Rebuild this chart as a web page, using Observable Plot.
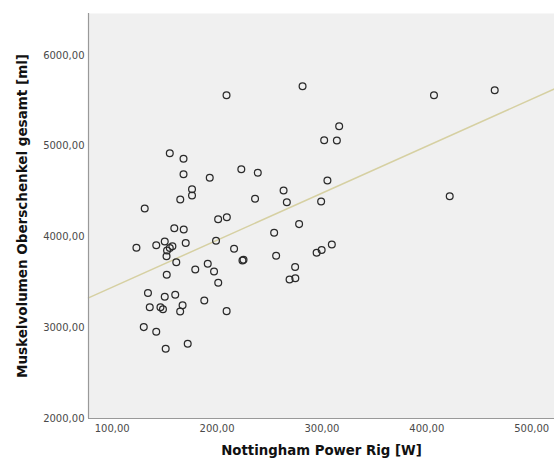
<!DOCTYPE html>
<html>
<head>
<meta charset="utf-8">
<script src="https://cdn.jsdelivr.net/npm/d3@7"></script>
<script src="https://cdn.jsdelivr.net/npm/@observablehq/plot@0.6"></script>
<style>
  html, body { margin: 0; padding: 0; background: #fff; }
  #chart svg { display: block; }
</style>
</head>
<body>
<div id="chart"></div>
<script>
// Nottingham Power Rig [W]
const power = [
  154.9, 168.0, 168.0, 193.0, 223.1, 238.8, 176.1, 176.1, 164.9, 236.2,
  131.0, 201.0, 209.3, 159.2, 168.2, 150.1, 142.0, 154.9, 157.4, 152.3,
  170.1, 123.1, 199.0, 216.2, 224.2, 225.2, 151.8, 161.1, 152.0, 179.2,
  134.1, 150.1, 160.1, 135.8, 146.0, 148.4, 167.1, 164.8, 187.8, 209.1,
  130.1, 142.0, 151.0, 172.0, 191.1, 197.1, 201.1, 254.4, 278.2, 256.3,
  274.4, 269.1, 274.6, 263.4, 266.5, 305.2, 299.2, 209.0, 281.5, 406.8,
  464.7, 316.4, 302.1, 314.2, 421.8, 309.4, 294.9, 299.7
];
// Muskelvolumen Oberschenkel gesamt [ml]
const volume = [
  4923, 4862, 4691, 4652, 4747, 4709, 4527, 4457, 4413, 4421,
  4314, 4195, 4218, 4096, 4083, 3950, 3909, 3879, 3898, 3851,
  3934, 3881, 3959, 3871, 3741, 3749, 3787, 3721, 3583, 3642,
  3383, 3341, 3364, 3226, 3226, 3203, 3247, 3179, 3300, 3183,
  3007, 2956, 2768, 2823, 3705, 3620, 3495, 4047, 4142, 3793,
  3669, 3532, 3545, 4512, 4383, 4623, 4391, 5562, 5662, 5562,
  5618, 5221, 5067, 5063, 4450, 3917, 3827, 3857
];
const xTicks = [100, 200, 300, 400, 500];
const yTicks = [2000, 3000, 4000, 5000, 6000];
const xDomain = [77.4, 521.7];
const yDomain = [2000, 6463];
const xLabel = "Nottingham Power Rig [W]";
const yLabel = "Muskelvolumen Oberschenkel gesamt [ml]";

const data = power.map((p, i) => ({p, v: volume[i]}));

// Least-squares fit line across the full x range
const mx = d3.mean(data, d => d.p), my = d3.mean(data, d => d.v);
const b = d3.sum(data, d => (d.p - mx) * (d.v - my)) / d3.sum(data, d => (d.p - mx) ** 2);
const a = my - b * mx;
const fit = xDomain.map(p => ({p, v: a + b * p}));

const fmt = d => d3.format(".2f")(d).replace(".", ",");

const chart = Plot.plot({
  width: 554,
  height: 465,
  marginLeft: 88,
  marginRight: 0,
  marginTop: 13,
  marginBottom: 47,
  style: {fontFamily: "DejaVu Sans", fontSize: "10px", color: "#4a4a4a", background: "#fff"},
  x: {domain: xDomain},
  y: {domain: yDomain},
  marks: [
    Plot.frame({fill: "#f0f0f0", stroke: null}),
    Plot.line(fit, {x: "p", y: "v", stroke: "#d6d0a2", strokeWidth: 1.5}),
    Plot.dot(data, {x: "p", y: "v", r: 3.4, stroke: "#2a2a2a", strokeWidth: 1.25, fill: "none"}),
    Plot.axisX({ticks: xTicks, tickFormat: fmt, tickSize: 0, tickPadding: 6, label: null}),
    Plot.axisY({ticks: yTicks, tickFormat: fmt, tickSize: 0, tickPadding: 4, label: null}),
    Plot.ruleX([xDomain[0]], {stroke: "#999", strokeWidth: 1.2}),
    Plot.ruleY([yDomain[0]], {stroke: "#999", strokeWidth: 1.2}),
    Plot.text([xLabel], {frameAnchor: "bottom", dy: 36, fontWeight: "bold", fontSize: 13.3, fill: "#111", fontFamily: "DejaVu Sans"}),
    Plot.text([yLabel], {frameAnchor: "left", dx: -66, rotate: -90, textAnchor: "middle", fontWeight: "bold", fontSize: 13.5, fill: "#111", fontFamily: "DejaVu Sans"})
  ]
});
document.getElementById("chart").appendChild(chart);
</script>
</body>
</html>
